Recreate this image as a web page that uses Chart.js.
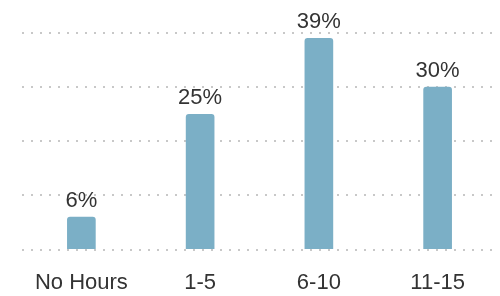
<!DOCTYPE html>
<html lang="en"><head>
<meta charset="utf-8">
<title>Hours chart</title>
<style type="text/css">
html, body { margin:0; padding:0; background-color:#ffffff; }
#box { width:500px; height:296px; }
</style>
<script src="https://cdn.jsdelivr.net/npm/chart.js"></script>
<script>

var categories=["No Hours","1-5","6-10","11-15"];
var shares=[6,25,39,30];
var yTicks=[0,10,20,30,40];

var valueLabels={id:'valueLabels',
  afterDatasetsDraw:function(chart) {
    var ctx=chart.ctx; var meta=chart.getDatasetMeta(0);
    ctx.save();
    ctx.font="22px 'Liberation Sans', Arial, sans-serif";
    ctx.fillStyle="#333333"; ctx.textAlign="center"; ctx.textBaseline="bottom";
    meta.data.forEach(function(bar,i) { ctx.fillText(shares[i]+"%",bar.x,bar.y-5); });
    ctx.restore(); }};

function initChart() {
  new Chart(document.getElementById('hours'),{type:'bar',
    data:{labels:categories,datasets:[{data:shares,
      backgroundColor:'#7bafc6',barThickness:28,
      borderRadius:3,borderSkipped:'bottom'}]},
    options:{responsive:false,animation:false,
      layout:{padding:{left:22,right:3,top:33,bottom:-20}},
      plugins:{legend:{display:false},tooltip:{enabled:false}},
      scales:{
        x:{grid:{display:false,drawTicks:false},border:{display:false},
          ticks:{padding:20,color:'#333333',font:{family:"'Liberation Sans', Arial, sans-serif",size:22}}},
        y:{min:yTicks[0],max:yTicks[yTicks.length-1],
          afterBuildTicks:function(axis){ axis.ticks=yTicks.map(function(v){return {value:v};}); },
          ticks:{display:false},
          grid:{color:'#c8c8c8',lineWidth:2,drawTicks:false},
          border:{display:false,dash:[2,7]}}}},
    plugins:[valueLabels]}); }

</script></head>
<body onload="initChart();">
<div id="box"><canvas id="hours" width="500" height="296"></canvas></div>
</body></html>
